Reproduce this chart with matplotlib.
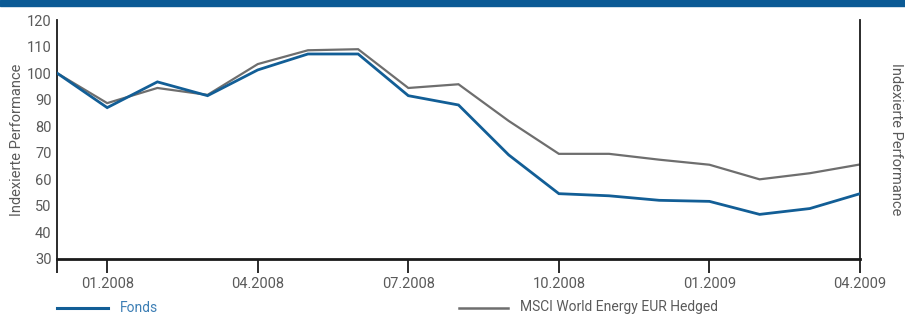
import matplotlib
matplotlib.use("Agg")
import matplotlib.pyplot as plt
from matplotlib.lines import Line2D
from matplotlib.patches import Rectangle

months = ["12.2007", "01.2008", "02.2008", "03.2008", "04.2008", "05.2008", "06.2008",
          "07.2008", "08.2008", "09.2008", "10.2008", "11.2008", "12.2008",
          "01.2009", "02.2009", "03.2009", "04.2009"]
fonds = [100, 87, 96.7, 91.5, 101.2, 107.2, 107.2, 91.5, 88, 69.2, 54.6, 53.8, 52.1, 51.7, 46.8, 49, 54.6]
msci = [100, 88.7, 94.4, 91.8, 103.4, 108.6, 109, 94.4, 95.8, 82, 69.6, 69.6, 67.4, 65.5, 60, 62.3, 65.6]
tick_idx = [0, 1, 4, 7, 10, 13, 16]
tick_labels = ["", "01.2008", "04.2008", "07.2008", "10.2008", "01.2009", "04.2009"]
yticks = [30, 40, 50, 60, 70, 80, 90, 100, 110, 120]
ylabel = "Indexierte Performance"
legend_labels = ["Fonds", "MSCI World Energy EUR Hedged"]

BLUE = "#125e96"
GRAY = "#6e6e6e"
TXT = "#5a5a5a"

plt.rcParams['font.family'] = ['Roboto', 'DejaVu Sans']

fig = plt.figure(figsize=(9.05, 3.14), dpi=100)
ax = fig.add_axes([57/905, 1-259/314, (860-57)/905, (259-20)/314])

x = list(range(len(months)))
ax.plot(x, msci, color=GRAY, lw=1.6, solid_joinstyle='miter', zorder=2)
ax.plot(x, fonds, color=BLUE, lw=2.0, solid_joinstyle='miter', zorder=3)

ax.set_xlim(0, len(months)-1)
ax.set_ylim(30, 120)
ax.set_yticks(yticks)
ax.set_xticks(tick_idx)
ax.set_xticklabels(tick_labels)

ax.spines['top'].set_visible(False)
ax.spines['bottom'].set_linewidth(2.0)
ax.spines['left'].set_linewidth(1.3)
ax.spines['right'].set_linewidth(1.3)
for s in ax.spines.values():
    s.set_color('#1a1a1a')

ax.tick_params(axis='x', direction='out', length=10, width=1.3, color='#1a1a1a',
               labelsize=10.5, labelcolor=TXT, pad=3)
ax.tick_params(axis='y', length=0, labelsize=10.5, labelcolor=TXT, pad=4,
               left=True, right=True, labelleft=True, labelright=True)
ax.set_ylabel(ylabel, fontsize=10.5, color=TXT, labelpad=2)
ax2 = ax.twinx()
ax2.set_ylim(30, 120)
ax2.set_yticks([])
for s in ax2.spines.values():
    s.set_visible(False)
ax2.set_ylabel(ylabel, fontsize=10.5, color=TXT, rotation=270, labelpad=31)

# top band
fig.patches.append(Rectangle((0, 1-6/314), 1, 6/314, transform=fig.transFigure,
                             color="#0b5a95", zorder=0))

# legend
ly = 1 - 307.5/314
fig.lines.append(Line2D([57/905, 108/905], [ly, ly], transform=fig.transFigure, color=BLUE, lw=2.2))
fig.text(120/905, ly, legend_labels[0], color="#3d7fb5", fontsize=10, va='center')
fig.lines.append(Line2D([459/905, 508/905], [ly, ly], transform=fig.transFigure, color=GRAY, lw=1.8))
fig.text(520/905, ly, legend_labels[1], color=TXT, fontsize=10, va='center')

fig.savefig("out.png", dpi=100)
